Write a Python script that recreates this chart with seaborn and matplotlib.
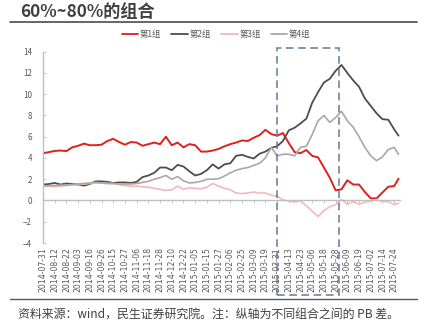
import matplotlib
matplotlib.use("Agg")
import matplotlib.pyplot as plt
import matplotlib.transforms as mtransforms
from matplotlib.patches import Rectangle
import pandas as pd
import seaborn as sns

# trading-day index of each reading
day = list(range(0, 241, 4)) + [243]

g1 = [4.44, 4.55, 4.66, 4.7, 4.65, 5.0, 5.15, 5.35, 5.2, 5.2, 5.25, 5.6, 5.8, 5.5, 5.25, 5.5,
      5.45, 5.15, 5.3, 5.45, 5.3, 6.0, 5.2, 5.45, 5.0, 5.3, 5.2, 4.6, 4.6, 4.7, 4.85, 5.1,
      5.3, 5.45, 5.65, 5.6, 5.9, 6.15, 6.65, 6.25, 6.1, 6.35, 5.4, 4.55, 4.45, 4.75, 4.2, 4.05,
      3.1, 2.15, 0.95, 1.05, 1.9, 1.5, 1.5, 0.8, 0.2, 0.2, 0.75, 1.3, 1.35, 2.05]
g2 = [1.5, 1.55, 1.65, 1.5, 1.6, 1.55, 1.5, 1.4, 1.55, 1.8, 1.8, 1.75, 1.65, 1.7, 1.7, 1.65,
      1.75, 2.2, 2.35, 2.6, 3.1, 3.1, 2.85, 3.35, 3.2, 2.75, 2.35, 2.5, 2.85, 3.4, 3.0, 3.4,
      3.5, 4.2, 4.3, 4.1, 3.95, 4.4, 4.6, 4.95, 5.1, 5.6, 6.6, 6.85, 7.25, 7.7, 9.2, 10.2,
      11.1, 11.45, 12.2, 12.75, 12.0, 11.3, 10.7, 9.6, 8.9, 8.2, 7.65, 7.6, 6.7, 6.1]
g3 = [1.4, 1.35, 1.3, 1.35, 1.4, 1.45, 1.5, 1.55, 1.6, 1.65, 1.65, 1.6, 1.6, 1.5, 1.4, 1.35,
      1.35, 1.3, 1.25, 1.15, 1.05, 0.95, 1.0, 1.35, 1.05, 1.2, 1.15, 1.1, 1.25, 1.6, 1.35, 1.15,
      1.0, 0.7, 0.65, 0.7, 0.8, 0.7, 0.7, 0.5, 0.4, 0.05, -0.05, -0.15, -0.05, -0.5, -1.0, -1.5,
      -0.95, -0.6, -0.4, 0.1, -0.35, -0.1, -0.35, -0.15, -0.05, 0.1, -0.1, -0.1, -0.4, -0.25]
g4 = [1.35, 1.4, 1.4, 1.45, 1.45, 1.5, 1.55, 1.6, 1.65, 1.7, 1.65, 1.6, 1.6, 1.55, 1.55, 1.55,
      1.6, 1.7, 1.8, 2.0, 2.15, 2.35, 2.0, 2.25, 1.85, 1.65, 1.7, 1.8, 2.0, 2.0, 2.05, 2.3,
      2.6, 2.85, 3.0, 3.1, 3.3, 3.5, 4.0, 5.0, 4.2, 4.35, 4.35, 4.2, 5.0, 5.1, 6.2, 7.5,
      8.0, 7.35, 7.8, 8.4, 7.5, 6.9, 6.0, 5.0, 4.2, 3.75, 4.1, 4.8, 5.0, 4.35]

groups = ["第1组", "第2组", "第3组", "第4组"]
tick_labels = ["2014-07-31", "2014-08-12", "2014-08-22", "2014-09-03", "2014-09-16", "2014-09-26",
               "2014-10-15", "2014-10-27", "2014-11-06", "2014-11-18", "2014-11-28", "2014-12-10",
               "2014-12-22", "2015-01-05", "2015-01-15", "2015-01-27", "2015-02-06", "2015-02-25",
               "2015-03-09", "2015-03-19", "2015-03-31", "2015-04-13", "2015-04-23", "2015-05-06",
               "2015-05-18", "2015-05-28", "2015-06-09", "2015-06-19", "2015-07-02", "2015-07-14",
               "2015-07-24"]
tick_step = 8
box_start, box_end = 160, 202.5

title = "60%~80%的组合"
footer = "资料来源：wind，民生证券研究院。注：纵轴为不同组合之间的 PB 差。"

sns.set_theme(style="white")
plt.rcParams["font.family"] = ["Noto Sans CJK SC", "DejaVu Sans"]

df = pd.concat([pd.DataFrame({"day": day, "value": v, "group": g})
                for g, v in zip(groups, [g1, g2, g3, g4])])

palette = {"第1组": "#E0201B", "第2组": "#4D4D4D", "第3组": "#F4B9B9", "第4组": "#A8A8A8"}

fig = plt.figure(figsize=(4.29, 3.26), dpi=100)
ax = fig.add_axes([43 / 429, 1 - 243 / 326, (400 - 43) / 429, (243 - 51.7) / 326])

sns.lineplot(data=df, x="day", y="value", hue="group", hue_order=groups,
             palette=palette, linewidth=1.3, ax=ax, legend=True)
for line, lw in zip(ax.lines, [1.4, 1.3, 1.2, 1.2]):
    line.set_linewidth(lw)

ax.set_xlim(0, 244)
ax.set_ylim(-4, 14)
ax.set_yticks(range(-4, 15, 2))
ax.set_xlabel("")
ax.set_ylabel("")

gray = "#BFBFBF"
for s in ["top", "right"]:
    ax.spines[s].set_visible(False)
ax.spines["left"].set_color(gray)
ax.spines["left"].set_linewidth(1.0)
ax.spines["bottom"].set_position(("data", 0))
ax.spines["bottom"].set_color(gray)
ax.spines["bottom"].set_linewidth(1.0)

ticks = [i * tick_step for i in range(len(tick_labels))]
ax.set_xticks(ticks)
ax.tick_params(axis="x", bottom=True, length=2.5, width=0.6, color=gray,
               direction="out", labelbottom=False)
ax.tick_params(axis="y", left=True, length=2.5, width=0.6, color=gray,
               direction="in", labelsize=5.8, labelcolor="#595959", pad=8)

sec = ax.secondary_xaxis("bottom")
sec.set_xticks(ticks, tick_labels, rotation=90)
sec.tick_params(length=0, labelsize=5.6, labelcolor="#595959", pad=3)
sec.spines["bottom"].set_visible(False)
for lab in sec.get_xticklabels():
    lab.set_family(["DejaVu Sans"])

# dashed highlight box
trans = mtransforms.blended_transform_factory(ax.transData, ax.transAxes)
rect = Rectangle((box_start, -0.272), box_end - box_start, 1.291, transform=trans,
                 fill=False, edgecolor="#5F7A96", linestyle=(0, (5, 3)), linewidth=1.1,
                 clip_on=False, zorder=5)
ax.add_patch(rect)

leg = ax.legend(loc="center", bbox_to_anchor=(216 / 429, 1 - 34 / 326),
                bbox_transform=fig.transFigure, ncol=4, frameon=False,
                fontsize=6.0, handlelength=2.0, handletextpad=0.2, columnspacing=1.2)
for t in leg.get_texts():
    t.set_color("#595959")

fig.text(20 / 429, 1 - 12 / 326, title, fontsize=12.3, fontweight="bold",
         color="#404040", va="center", ha="left")
fig.add_artist(plt.Line2D([10 / 429, 417 / 429], [1 - 22 / 326, 1 - 22 / 326],
                          transform=fig.transFigure, color="#595959", linewidth=1.3))
fig.add_artist(plt.Line2D([10 / 429, 417 / 429], [1 - 298.5 / 326, 1 - 298.5 / 326],
                          transform=fig.transFigure, color="#595959", linewidth=1.0))
fig.text(18 / 429, 1 - 314 / 326, footer, fontsize=8.6, color="#404040",
         va="center", ha="left")

fig.savefig("out.png", dpi=100)
